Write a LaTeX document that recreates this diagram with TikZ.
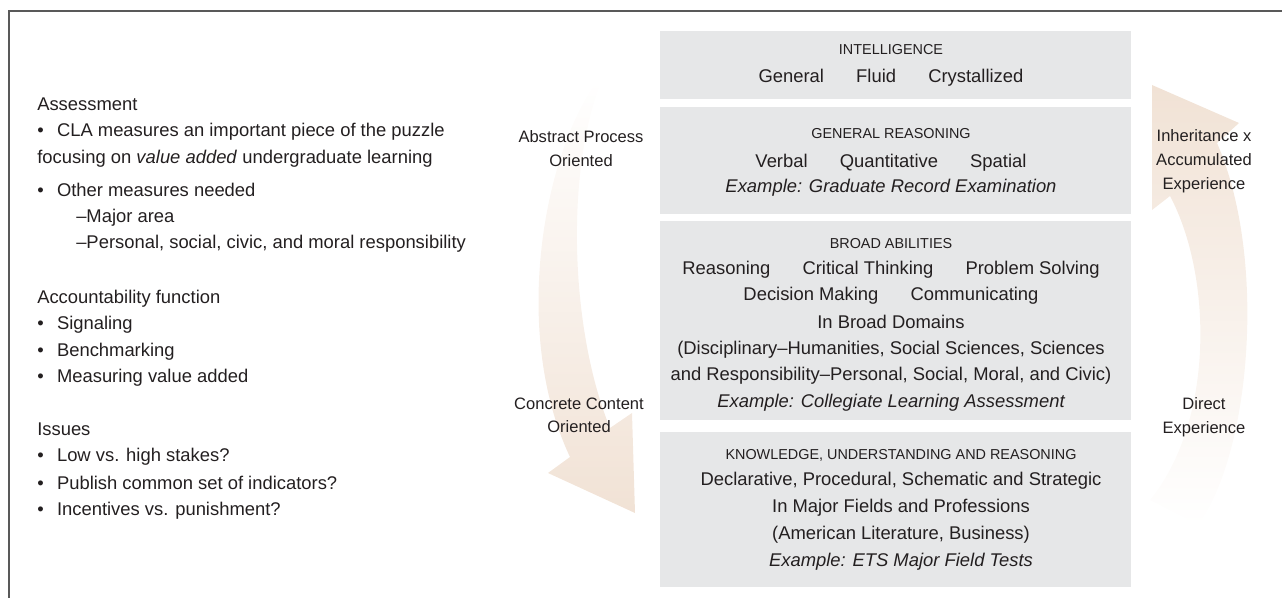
\documentclass[tikz,border=0pt]{standalone}
\usepackage{fontspec}
\setmainfont{Liberation Sans}
\usepackage{tikz}

\definecolor{boxgray}{RGB}{230,231,232}
\definecolor{arrowpeach}{RGB}{241,226,213}
\definecolor{inkgray}{RGB}{35,31,32}
\newcommand{\wordgap}{\hspace{1.75em}}
\newcommand{\bul}{\textbullet\hspace{10pt}}

\tikzset{
  frame/.style={draw=black!65, line width=1.5pt},
  layer/.style={fill=boxgray, minimum width=353.25pt, inner sep=0pt},
  leftline/.style={anchor=base west, inner sep=0pt, text=inkgray, font=\fontsize{13.8pt}{16pt}\selectfont},
  boxline/.style={anchor=base, inner sep=0pt, text=inkgray, font=\fontsize{13.8pt}{16pt}\selectfont},
  boxhead/.style={anchor=base, inner sep=0pt, text=inkgray, font=\fontsize{10.8pt}{13pt}\selectfont},
  sidelabel/.style={anchor=base, inner sep=0pt, text=inkgray, font=\fontsize{12.4pt}{15pt}\selectfont},
  arrowdown/.style={top color=white, middle color=arrowpeach!70, bottom color=arrowpeach},
  arrowup/.style={top color=arrowpeach, middle color=arrowpeach!70, bottom color=white}
}

\begin{document}
\begin{tikzpicture}[x=0.75pt,y=-0.75pt]
        \useasboundingbox (0,0) rectangle (1282,598);
        \draw[frame] (1282,11.5) -- (9,11.5) -- (9,598);

        % the two curved arrows
        \path[arrowdown] (598,80) .. controls (545,150) and (510,330) .. (570,457)
            -- (548,473) -- (635,513) -- (632,413) -- (610,428)
            .. controls (570,330) and (565,170) .. (602,80) -- cycle;
        \path[arrowup] (1198,525) .. controls (1250,455) and (1268,260) .. (1217,143)
            -- (1239,123) -- (1152,85) -- (1152,210) -- (1170,196)
            .. controls (1212,275) and (1215,420) .. (1150,500) -- cycle;

        \node[layer, minimum height=51pt] (intel) at (895.5,65) {};
        \node[layer, minimum height=80.25pt] (genreas) at (895.5,160.5) {};
        \node[layer, minimum height=149.25pt] (broad) at (895.5,320.5) {};
        \node[layer, minimum height=116.25pt] (knowl) at (895.5,509.5) {};

        \node[boxhead] (intel-h) at (891,55) {INTELLIGENCE};
        \node[boxline] (intel-a) at (891,82.5) {General\wordgap Fluid\wordgap Crystallized};

        \node[boxhead] (genreas-h) at (891,139) {GENERAL REASONING};
        \node[boxline] (genreas-a) at (891,167.7) {Verbal\wordgap Quantitative\wordgap Spatial};
        \node[boxline] (genreas-b) at (891,193) {\itshape Example: Graduate Record Examination};

        \node[boxhead] (broad-h) at (891,248.3) {BROAD ABILITIES};
        \node[boxline] (broad-a) at (891,274.3) {Reasoning\wordgap Critical Thinking\wordgap Problem Solving};
        \node[boxline] (broad-b) at (891,301) {Decision Making\wordgap Communicating};
        \node[boxline] (broad-c) at (891,328.3) {In Broad Domains};
        \node[boxline] (broad-d) at (891,354.5) {(Disciplinary–Humanities, Social Sciences, Sciences};
        \node[boxline] (broad-e) at (891,381) {and Responsibility–Personal, Social, Moral, and Civic)};
        \node[boxline] (broad-f) at (891,407.7) {\itshape Example: Collegiate Learning Assessment};

        \node[boxhead] (knowl-h) at (901,459.3) {KNOWLEDGE, UNDERSTANDING AND REASONING};
        \node[boxline] (knowl-a) at (901,486) {Declarative, Procedural, Schematic and Strategic};
        \node[boxline] (knowl-b) at (901,512.3) {In Major Fields and Professions};
        \node[boxline] (knowl-c) at (901,539) {(American Literature, Business)};
        \node[boxline] (knowl-d) at (901,566) {\itshape Example: ETS Major Field Tests};

        % labels beside the arrows
        \node[sidelabel] (abs-a) at (581,142.7) {Abstract Process};
        \node[sidelabel] (abs-b) at (581,166.7) {Oriented};
        \node[sidelabel] (conc-a) at (579,409.3) {Concrete Content};
        \node[sidelabel] (conc-b) at (579,432.7) {Oriented};
        \node[sidelabel] (inh-a) at (1204,141.7) {Inheritance x};
        \node[sidelabel] (inh-b) at (1204,165.7) {Accumulated};
        \node[sidelabel] (inh-c) at (1204,189.3) {Experience};
        \node[sidelabel] (dir-a) at (1204,409.3) {Direct};
        \node[sidelabel] (dir-b) at (1204,433.3) {Experience};

        % left column
        \node[leftline] (assess) at (37,110.5) {Assessment};
        \node[leftline] (cla) at (37,137) {\bul CLA measures an important piece of the puzzle};
        \node[leftline] (cla-b) at (37,163.5) {focusing on \textit{value added} undergraduate learning};
        \node[leftline] (other) at (37,197) {\bul Other measures needed};
        \node[leftline] (major) at (76,223) {–Major area};
        \node[leftline] (civic) at (76,249) {–Personal, social, civic, and moral responsibility};
        \node[leftline] (account) at (37,303.5) {Accountability function};
        \node[leftline] (signal) at (37,330) {\bul Signaling};
        \node[leftline] (bench) at (37,356.5) {\bul Benchmarking};
        \node[leftline] (valadd) at (37,383) {\bul Measuring value added};
        \node[leftline] (issues) at (37,436) {Issues};
        \node[leftline] (stakes) at (37,462) {\bul Low vs. high stakes?};
        \node[leftline] (publish) at (37,489) {\bul Publish common set of indicators?};
        \node[leftline] (incent) at (37,515.5) {\bul Incentives vs. punishment?};
\end{tikzpicture}
\end{document}
